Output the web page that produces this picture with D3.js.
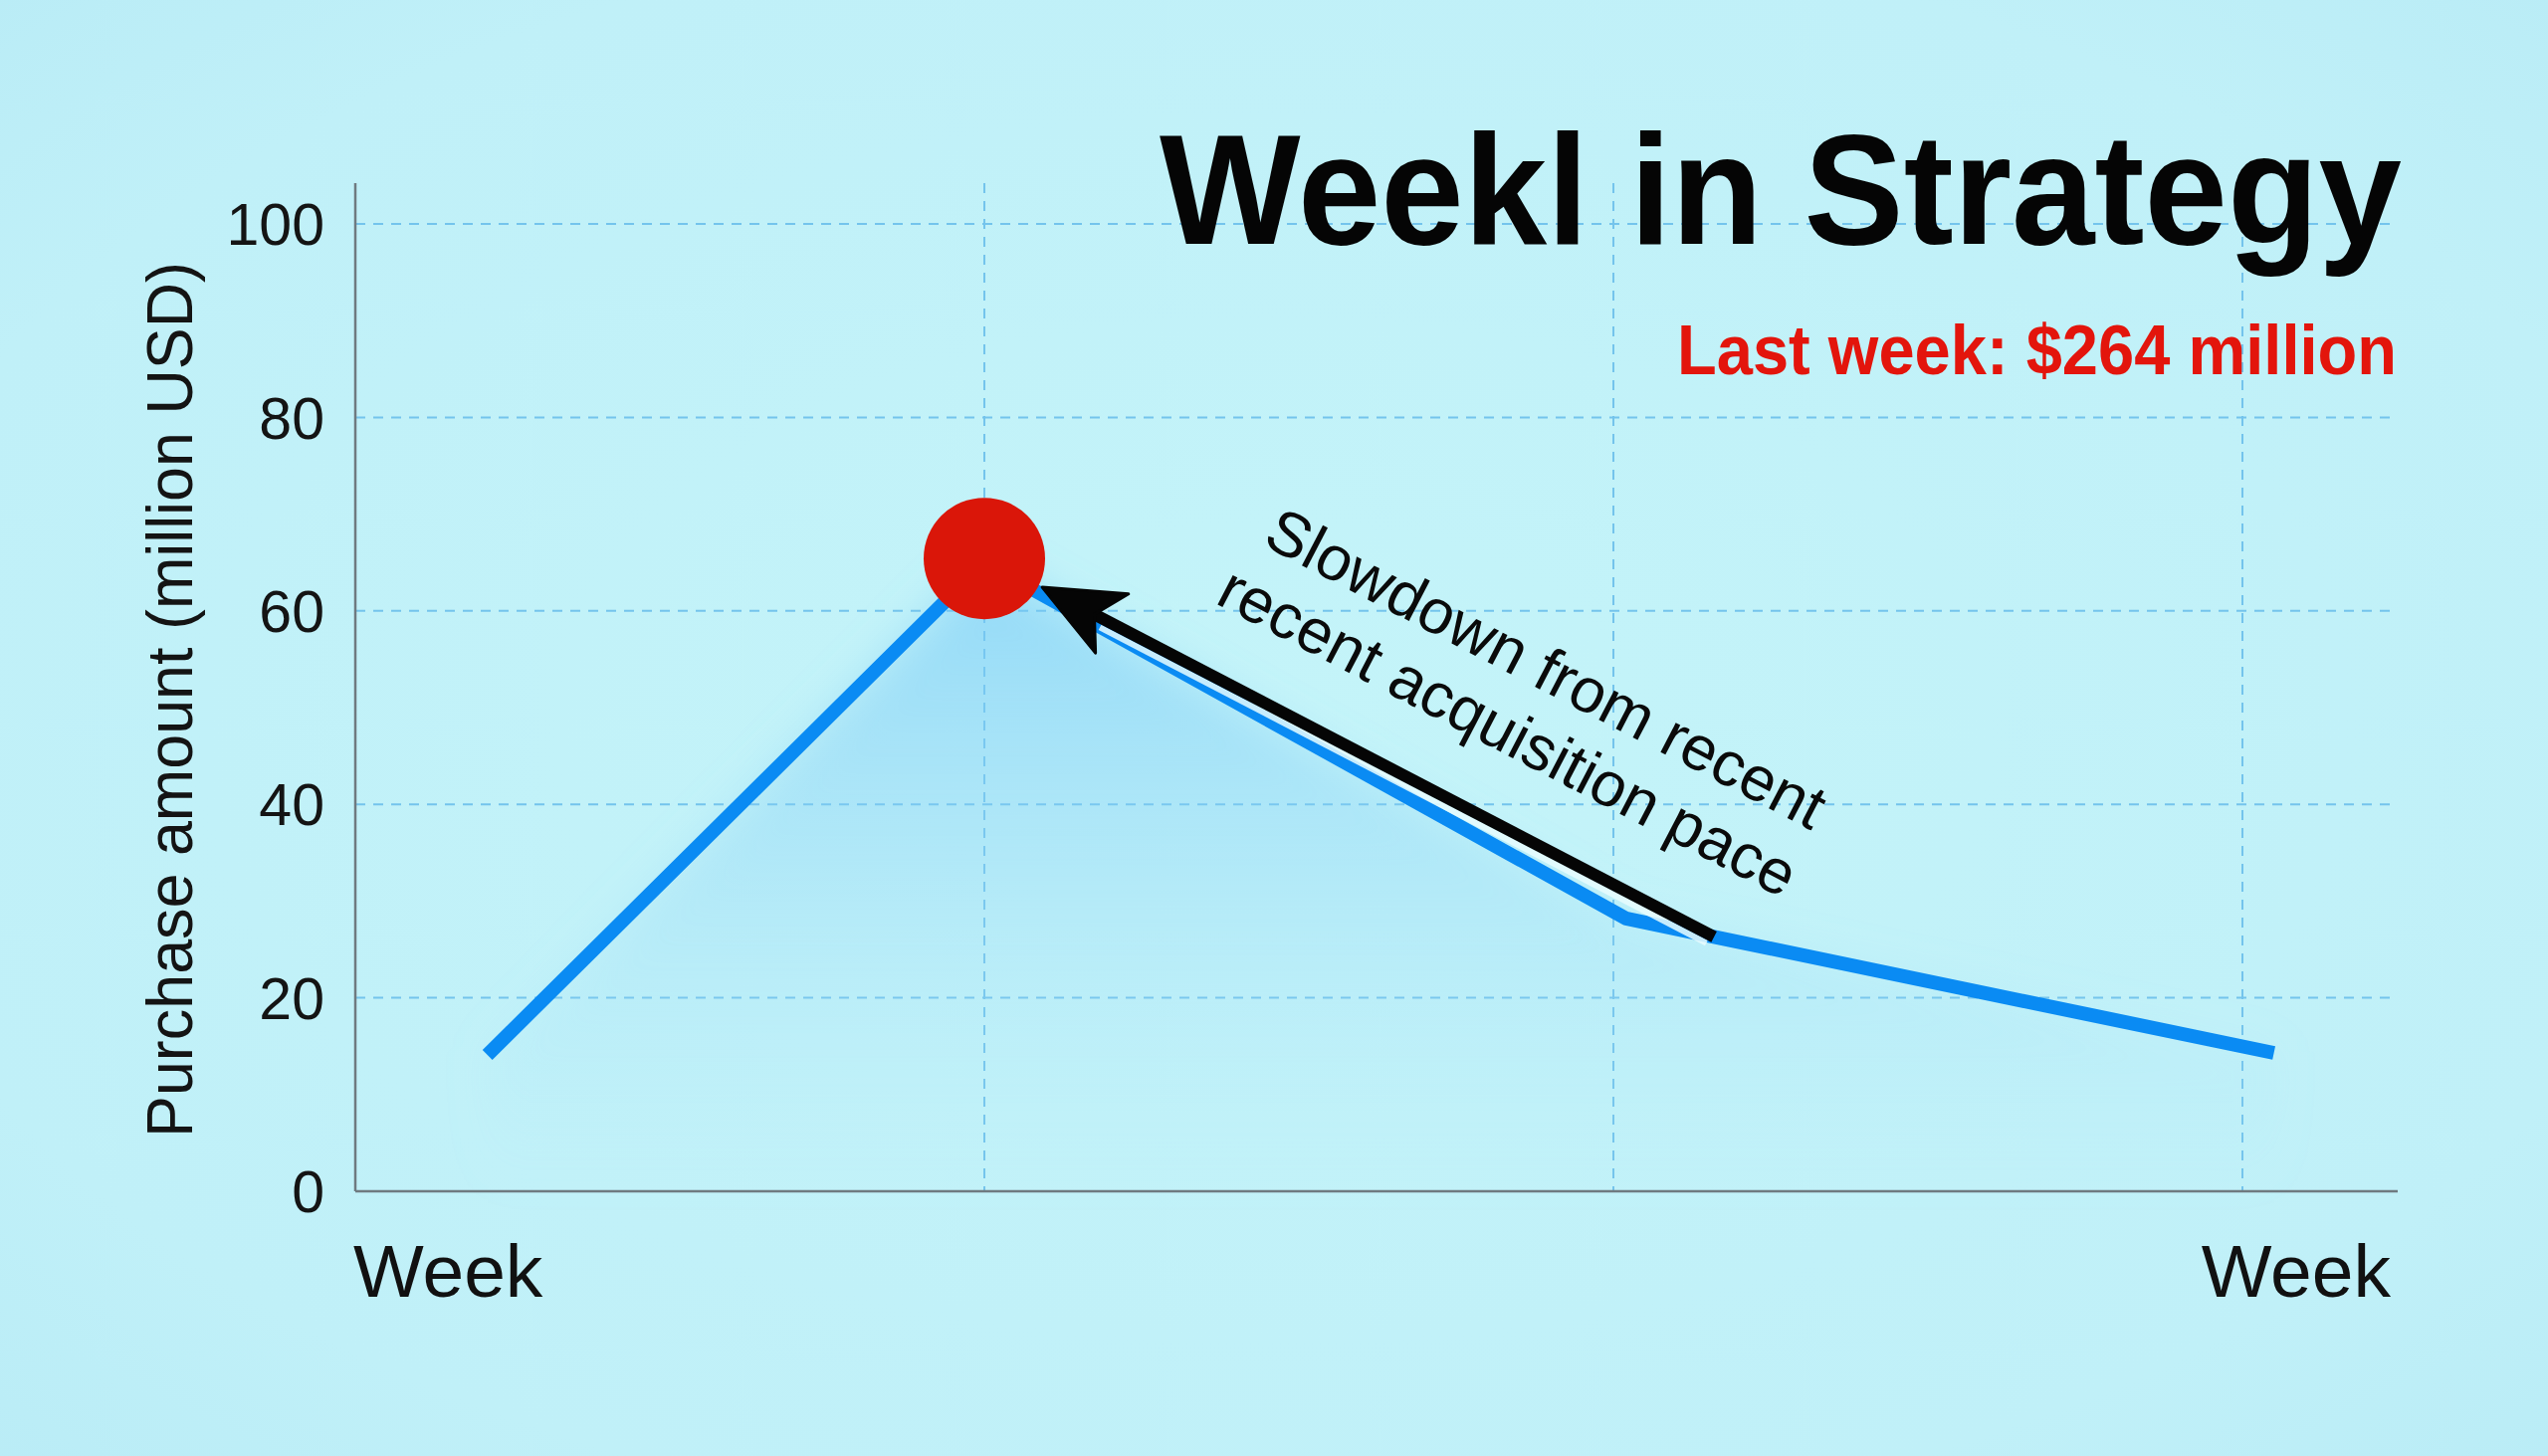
<!DOCTYPE html>
<html>
<head>
<meta charset="utf-8">
<script src="https://cdn.jsdelivr.net/npm/d3@7"></script>
<style>
  html, body { margin: 0; padding: 0; background: #c2f2f8; }
  svg { display: block; }
  text { font-family: "Liberation Sans", Arial, Helvetica, sans-serif; }
</style>
</head>
<body>
<svg id="chart" width="2560" height="1463"></svg>
<script>
// data
const weekPos  = [0.21, 1, 2.02, 2.16, 3.05];
const purchase = [14.1, 65, 28.2, 26.3, 14.3];
const yTicks = [0, 20, 40, 60, 80, 100];
const weekGrid = [1, 2, 3];
const weekLabels = ["Week", "Week"];
const peakIndex = 1;
const titleText = "Weekl in Strategy";
const subtitleText = "Last week: $264 million";
const yAxisTitle = "Purchase amount (million USD)";
const noteLines = ["Slowdown from recent", "recent acquisition pace"];
// arrow from the 4th point back up to the peak (week, value)
const arrowTail = {week: 2.16, value: 26.3};
const arrowTip  = {week: 1.092, value: 62.45};
const noteAnchor = {week: 1.44, value: 66.9};

const svgWidth = 2560, svgHeight = 1463;
const svg = d3.select("#chart");

let xMap = d3.scaleLinear().domain([0, 3]).range([357, 2253]);
let yMap = d3.scaleLinear().domain([0, 100]).range([1197, 225]);
const plotRight = 2409, plotTop = 184;

// background + gradients
let defs = svg.append("defs");
let bg = defs.append("radialGradient").attr("id", "bg")
    .attr("cx", "50%").attr("cy", "50%").attr("r", "80%");
bg.append("stop").attr("offset", "0%").attr("stop-color", "#c4f4f9");
bg.append("stop").attr("offset", "70%").attr("stop-color", "#c0f0f8");
bg.append("stop").attr("offset", "100%").attr("stop-color", "#b6eaf5");

let areaGrad = defs.append("linearGradient").attr("id", "areaGrad")
    .attr("gradientUnits", "userSpaceOnUse")
    .attr("x1", 0).attr("x2", 0).attr("y1", yMap(65)).attr("y2", yMap(0));
areaGrad.append("stop").attr("offset", "0%").attr("stop-color", "#72c8f6").attr("stop-opacity", 0.6);
areaGrad.append("stop").attr("offset", "50%").attr("stop-color", "#8cd2f6").attr("stop-opacity", 0.3);
areaGrad.append("stop").attr("offset", "100%").attr("stop-color", "#b0e6f6").attr("stop-opacity", 0);

defs.append("filter").attr("id", "soft")
    .attr("x", "-20%").attr("y", "-20%").attr("width", "140%").attr("height", "140%")
  .append("feGaussianBlur").attr("stdDeviation", 22);

svg.append("rect").attr("width", svgWidth).attr("height", svgHeight).attr("fill", "url(#bg)");

// grid
svg.append("g").selectAll("line").data(yTicks.filter(d => d > 0)).enter().append("line")
    .attr("x1", xMap(0)).attr("x2", plotRight)
    .attr("y1", d => yMap(d)).attr("y2", d => yMap(d))
    .attr("stroke", "#74c4ec").attr("stroke-width", 2)
    .attr("stroke-dasharray", "10,8");
svg.append("g").selectAll("line").data(weekGrid).enter().append("line")
    .attr("x1", d => xMap(d)).attr("x2", d => xMap(d))
    .attr("y1", plotTop).attr("y2", yMap(0))
    .attr("stroke", "#74c4ec").attr("stroke-width", 2)
    .attr("stroke-dasharray", "10,8");

// series area (soft glow under the line)
let pts = weekPos.map((w, i) => ({week: w, value: purchase[i]}));
let area = d3.area().x(d => xMap(d.week)).y0(yMap(0)).y1(d => yMap(d.value));
svg.append("path").datum(pts).attr("d", area)
    .attr("fill", "url(#areaGrad)").attr("filter", "url(#soft)");

// axes lines
svg.append("line").attr("x1", xMap(0)).attr("x2", xMap(0))
    .attr("y1", plotTop).attr("y2", yMap(0))
    .attr("stroke", "#6f7a80").attr("stroke-width", 2.5);
svg.append("line").attr("x1", xMap(0)).attr("x2", plotRight)
    .attr("y1", yMap(0)).attr("y2", yMap(0))
    .attr("stroke", "#6f7a80").attr("stroke-width", 2.5);

// y tick labels
svg.append("g").selectAll("text").data(yTicks).enter().append("text")
    .attr("x", 326).attr("y", d => yMap(d))
    .attr("dy", "0.36em")
    .attr("text-anchor", "end")
    .attr("font-size", 59).attr("fill", "#141414")
    .text(d => d);

// y axis title
svg.append("text")
    .attr("transform", "translate(193," + ((yMap(0) + yMap(100)) / 2 - 8) + ") rotate(-90)")
    .attr("text-anchor", "middle")
    .attr("font-size", 64).attr("fill", "#141414")
    .attr("textLength", 880).attr("lengthAdjust", "spacingAndGlyphs")
    .text(yAxisTitle);

// x labels
svg.append("text").attr("x", xMap(0) - 2).attr("y", 1303)
    .attr("text-anchor", "start").attr("font-size", 75).attr("fill", "#111")
    .text(weekLabels[0]);
svg.append("text").attr("x", 2402).attr("y", 1303)
    .attr("text-anchor", "end").attr("font-size", 75).attr("fill", "#111")
    .text(weekLabels[1]);

let line = d3.line().x(d => xMap(d.week)).y(d => yMap(d.value)).curve(d3.curveLinear);
svg.append("path").datum(pts).attr("d", line)
    .attr("fill", "none").attr("stroke", "#0a8bf3")
    .attr("stroke-width", 14).attr("stroke-linejoin", "round")
    .attr("stroke-linecap", "butt");

// annotation arrow
let tx = xMap(arrowTip.week), ty = yMap(arrowTip.value);
let sx = xMap(arrowTail.week), sy = yMap(arrowTail.value);
let ang = Math.atan2(sy - ty, sx - tx) * 180 / Math.PI;
let len = Math.hypot(sx - tx, sy - ty);
let arrow = svg.append("g").attr("transform", "translate(" + tx + "," + ty + ") rotate(" + ang + ")");
arrow.append("line").attr("x1", 70).attr("x2", len - 4).attr("y1", 9).attr("y2", 9)
    .attr("stroke", "#e9fdff").attr("stroke-width", 6).attr("opacity", 0.85);
arrow.append("line").attr("x1", 50).attr("x2", len).attr("y1", 0).attr("y2", 0)
    .attr("stroke", "#050505").attr("stroke-width", 12);
arrow.append("path").attr("d", "M0,0 L80,-34 L59,0 L78,34 Z")
    .attr("fill", "#050505").attr("stroke", "#050505")
    .attr("stroke-width", 3).attr("stroke-linejoin", "round");

// peak dot
svg.append("circle")
    .attr("cx", xMap(pts[peakIndex].week)).attr("cy", yMap(pts[peakIndex].value) - 4)
    .attr("r", 61).attr("fill", "#da1609");

// annotation text
let note = svg.append("g").attr("transform",
    "translate(" + xMap(noteAnchor.week) + "," + yMap(noteAnchor.value) + ") rotate(" + ang + ")");
note.selectAll("text").data(noteLines).enter().append("text")
    .attr("x", (d, i) => i * -15).attr("y", (d, i) => i * 74)
    .attr("font-size", 63).attr("fill", "#0a0a0a")
    .text(d => d);

// title + subtitle
svg.append("text").attr("x", 2413).attr("y", 245)
    .attr("text-anchor", "end").attr("font-size", 158).attr("font-weight", "bold")
    .attr("fill", "#050505")
    .attr("textLength", 1248).attr("lengthAdjust", "spacingAndGlyphs")
    .text(titleText);
svg.append("text").attr("x", 2408).attr("y", 376)
    .attr("text-anchor", "end").attr("font-size", 70).attr("font-weight", "bold")
    .attr("fill", "#e3150c")
    .attr("textLength", 723).attr("lengthAdjust", "spacingAndGlyphs")
    .text(subtitleText);
</script>
</body>
</html>
